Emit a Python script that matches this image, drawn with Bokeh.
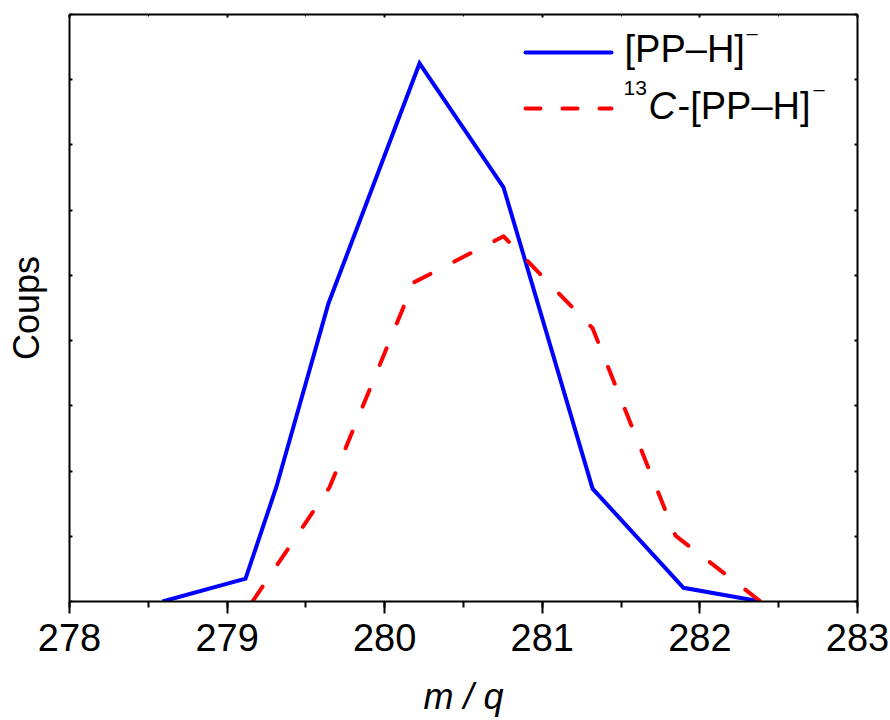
from bokeh.plotting import figure
from bokeh.models import (Range1d, LinearAxis, SingleIntervalTicker, Label, Arrow,
                          CustomJSTickFormatter)
from bokeh.embed import file_html
from bokeh.resources import INLINE

# ---- data ----
mz_main = [278.59, 279.117, 279.313, 279.643, 280.221, 280.754, 281.319, 281.896, 282.385]
counts_main = [0.0, 0.35, 1.76, 4.57, 8.25, 6.35, 1.73, 0.21, 0.0]
mz_13c = [279.161, 279.65, 280.183, 280.754, 281.319, 281.845, 282.385]
counts_13c = [0.0, 1.75, 4.89, 5.60, 4.19, 1.01, 0.0]
x_ticks_interval = 1
y_ticks_interval = 1
x_label = "m / q"
y_label = "Coups"
label_main = "[PP\u2013H]"
label_13c = "-[PP\u2013H]"

FONT = "Liberation Sans"

p = figure(frame_width=788, frame_height=587, output_backend="svg", toolbar_location=None,
           x_range=Range1d(278, 283), y_range=Range1d(0, 9),
           min_border_left=69, min_border_right=33, min_border_top=14, min_border_bottom=119,
           background_fill_color="white", border_fill_color="white")
p.grid.visible = False
p.outline_line_color = None

empty = CustomJSTickFormatter(code="return ''")

# bottom axis
xa = p.xaxis[0]
xa.ticker = SingleIntervalTicker(interval=x_ticks_interval, num_minor_ticks=2)
xa.axis_line_width = 2
xa.axis_line_color = "black"
xa.major_tick_line_width = 2
xa.major_tick_in = 0
xa.major_tick_out = 12
xa.minor_tick_line_width = 2
xa.minor_tick_in = 0
xa.minor_tick_out = 6
xa.major_label_text_font = FONT
xa.major_label_text_font_size = "38px"
xa.major_label_text_color = "black"
xa.major_label_standoff = 10
xa.axis_label = x_label
xa.axis_label_text_font = FONT
xa.axis_label_text_font_style = "italic"
xa.axis_label_text_font_size = "36px"
xa.axis_label_text_color = "black"
xa.axis_label_standoff = 22

# left axis
ya = p.yaxis[0]
ya.ticker = SingleIntervalTicker(interval=y_ticks_interval, num_minor_ticks=0)
ya.formatter = empty
ya.axis_line_width = 2
ya.major_tick_line_width = 2
ya.major_tick_in = 3
ya.major_tick_out = 0
ya.minor_tick_line_color = None
ya.major_label_standoff = 0
ya.axis_label = y_label
ya.axis_label_text_font = FONT
ya.axis_label_text_font_style = "normal"
ya.axis_label_text_font_size = "36px"
ya.axis_label_text_color = "black"
ya.axis_label_standoff = 23

# top axis
ta = LinearAxis(ticker=SingleIntervalTicker(interval=x_ticks_interval, num_minor_ticks=2),
                formatter=empty, axis_line_width=2, major_tick_line_width=2,
                major_tick_in=3, major_tick_out=0, minor_tick_in=2, minor_tick_out=0,
                minor_tick_line_width=1, major_label_standoff=0)
p.add_layout(ta, "above")
# right axis
ra = LinearAxis(ticker=SingleIntervalTicker(interval=y_ticks_interval, num_minor_ticks=0),
                formatter=empty, axis_line_width=2, major_tick_line_width=2,
                major_tick_in=3, major_tick_out=0, minor_tick_line_color=None,
                major_label_standoff=0)
p.add_layout(ra, "right")

# data lines
p.line(mz_main, counts_main, line_color="#0000FF", line_width=4, line_join="miter")
p.line(mz_13c, counts_13c, line_color="#FF0000", line_width=4, line_dash="18 27",
       line_cap="round", line_join="round")

# ---- legend (built by hand, positions in page pixels converted to data) ----
def px2x(px):
    return 278 + (px - 69) / 157.6

def py2y(py):
    return (601 - py) / 65.22

p.add_layout(Arrow(x_start=px2x(525), y_start=py2y(52), x_end=px2x(611), y_end=py2y(52),
                   end=None, line_color="#0000FF", line_width=4, line_cap="round"))
p.add_layout(Arrow(x_start=px2x(525), y_start=py2y(108), x_end=px2x(611), y_end=py2y(108),
                   end=None, line_color="#FF0000", line_width=4, line_cap="round",
                   line_dash="15 22"))

def lab(text, px, py, size, style="normal"):
    p.add_layout(Label(x=px2x(px), y=py2y(py), text=text, text_font=FONT,
                       text_font_size=size, text_font_style=style, text_color="black",
                       text_align="left", text_baseline="alphabetic"))

lab(label_main, 624, 49, "38px")
lab("\u2013", 746, 33, "20px")
lab("13", 623, 88, "21px")
lab("C", 648, 106, "38px", "italic")
lab(label_13c, 677, 106, "38px")
lab("\u2013", 813, 89, "20px")

open("out.html", "w").write(file_html(p, INLINE))
